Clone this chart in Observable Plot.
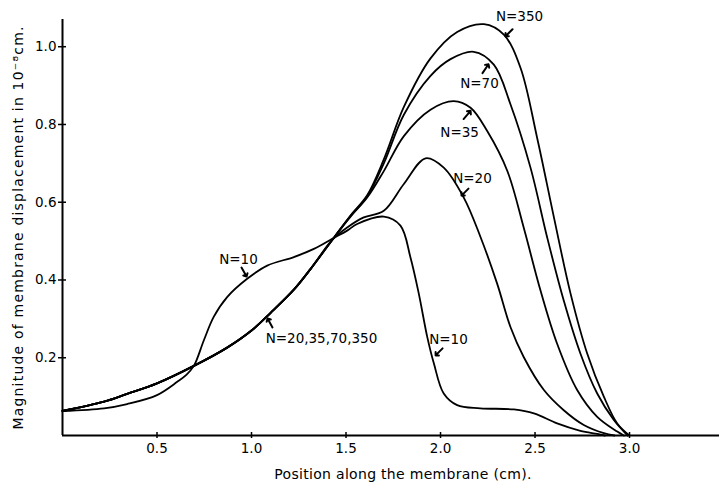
<!DOCTYPE html>
<html><head><meta charset="utf-8">
<script src="https://cdn.jsdelivr.net/npm/d3@7"></script>
<script src="https://cdn.jsdelivr.net/npm/@observablehq/plot@0.6"></script>
<style>body{margin:0;background:#fff}</style>
</head><body><div id="chart"></div>
<script>
// shared segment of N=20,35,70,350
const commonX = [0, 0.22, 0.342, 0.5, 0.695, 0.871, 1.0, 1.1, 1.224, 1.312, 1.427];
const commonY = [0.063, 0.087, 0.107, 0.134, 0.179, 0.226, 0.270, 0.315, 0.375, 0.428, 0.503];

const n10X = [0, 0.22, 0.342, 0.5, 0.607, 0.655, 0.695, 0.748, 0.80, 0.871, 0.977, 1.083, 1.224, 1.33, 1.427, 1.506, 1.559, 1.70, 1.788, 1.841, 1.885, 1.93, 1.965, 2.017, 2.088, 2.21, 2.388, 2.494, 2.617, 2.74, 2.83, 2.87];
const n10Y = [0.063, 0.070, 0.081, 0.104, 0.138, 0.156, 0.179, 0.245, 0.305, 0.356, 0.403, 0.437, 0.459, 0.480, 0.506, 0.527, 0.544, 0.563, 0.540, 0.458, 0.365, 0.253, 0.185, 0.108, 0.078, 0.070, 0.067, 0.057, 0.031, 0.012, 0.004, 0];

const n20X = [1.506, 1.594, 1.70, 1.806, 1.921, 2.017, 2.123, 2.212, 2.30, 2.37, 2.44, 2.547, 2.652, 2.758, 2.864, 2.92];
const n20Y = [0.535, 0.561, 0.578, 0.647, 0.713, 0.689, 0.612, 0.510, 0.390, 0.279, 0.202, 0.117, 0.065, 0.027, 0.006, 0];

const n35X = [1.524, 1.612, 1.70, 1.806, 1.947, 2.07, 2.159, 2.247, 2.353, 2.44, 2.529, 2.617, 2.723, 2.829, 2.935, 2.97];
const n35Y = [0.563, 0.612, 0.680, 0.770, 0.838, 0.860, 0.843, 0.783, 0.681, 0.535, 0.373, 0.236, 0.117, 0.048, 0.010, 0];

const n70X = [1.524, 1.612, 1.70, 1.806, 1.947, 2.053, 2.176, 2.282, 2.37, 2.476, 2.564, 2.652, 2.74, 2.829, 2.917, 2.99];
const n70Y = [0.565, 0.615, 0.700, 0.825, 0.925, 0.968, 0.987, 0.954, 0.852, 0.689, 0.510, 0.347, 0.211, 0.108, 0.040, 0];

const n350X = [1.524, 1.612, 1.70, 1.806, 1.947, 2.088, 2.23, 2.335, 2.423, 2.511, 2.60, 2.688, 2.776, 2.864, 2.935, 3.0];
const n350Y = [0.566, 0.618, 0.710, 0.845, 0.970, 1.038, 1.058, 1.031, 0.946, 0.766, 0.561, 0.365, 0.211, 0.100, 0.031, 0];

const xTicks = [0.5, 1.0, 1.5, 2.0, 2.5, 3.0];
const yTicks = [0.2, 0.4, 0.6, 0.8, 1.0];

const labelText = ["N=350", "N=70", "N=35", "N=20", "N=10", "N=10", "N=20,35,70,350"];
const labelX = [2.418, 2.206, 2.101, 2.169, 2.042, 0.931, 1.37];
const labelY = [1.076, 0.904, 0.780, 0.660, 0.247, 0.453, 0.250];
const arrowX1 = [2.381, 2.222, 2.122, 2.148, 2.011, 0.947, 1.111];
const arrowY1 = [1.045, 0.932, 0.814, 0.635, 0.224, 0.432, 0.278];
const arrowX2 = [2.344, 2.254, 2.159, 2.111, 1.974, 0.974, 1.085];
const arrowY2 = [1.027, 0.955, 0.835, 0.617, 0.206, 0.409, 0.301];

const xLabel = "Position along the membrane (cm).";
const yLabel = "Magnitude of membrane displacement in 10\u207B\u2078cm.";

const series = [
  {name: "N=10", x: n10X, y: n10Y},
  {name: "N=20", x: commonX.concat(n20X), y: commonY.concat(n20Y)},
  {name: "N=35", x: commonX.concat(n35X), y: commonY.concat(n35Y)},
  {name: "N=70", x: commonX.concat(n70X), y: commonY.concat(n70Y)},
  {name: "N=350", x: commonX.concat(n350X), y: commonY.concat(n350Y)}
];
const rows = series.flatMap(s => s.x.map((x, i) => ({series: s.name, x, y: s.y[i]})));
const labels = labelText.map((t, i) => ({t, x: labelX[i], y: labelY[i]}));
const arrows = arrowX1.map((x1, i) => ({x1, y1: arrowY1[i], x2: arrowX2[i], y2: arrowY2[i]}));

const fontFam = "'DejaVu Sans', sans-serif";
const fmt = d3.format(".1f");

const chart = Plot.plot({
  width: 719,
  height: 490,
  marginLeft: 62,
  marginRight: 0,
  marginTop: 19,
  marginBottom: 55,
  style: {fontFamily: fontFam, background: "#fff", color: "#000"},
  x: {domain: [0, 3.476]},
  y: {domain: [0, 1.07]},
  marks: [
    Plot.axisX({ticks: xTicks, tickSize: 6, dy: -3, text: null, strokeWidth: 1.5}),
    Plot.axisX({ticks: xTicks, tickSize: 0, tickPadding: 8, tickFormat: fmt, fontSize: 13.5, label: null}),
    Plot.axisY({ticks: yTicks, tickSize: 8, dx: 4, text: null, strokeWidth: 1.5}),
    Plot.axisY({ticks: yTicks, tickSize: 0, tickPadding: 6, tickFormat: fmt, fontSize: 13.5, label: null}),
    Plot.ruleX([0], {strokeWidth: 2}),
    Plot.ruleY([0], {strokeWidth: 2}),
    Plot.line(rows, {x: "x", y: "y", z: "series", curve: "catmull-rom", stroke: "#000", strokeWidth: 1.8}),
    Plot.arrow(arrows, {x1: "x1", y1: "y1", x2: "x2", y2: "y2", stroke: "#000", strokeWidth: 2, headLength: 5, headAngle: 90}),
    Plot.text(labels, {x: "x", y: "y", text: "t", fontSize: 13.5, fill: "#000"}),
    Plot.text([xLabel], {text: d => d, frameAnchor: "bottom", dx: 12, dy: 43, fontSize: 14, fill: "#000"}),
    Plot.text([yLabel], {text: d => d, frameAnchor: "left", textAnchor: "middle", dx: -44, rotate: -90, fontSize: 14, fill: "#000"})
  ]
});
document.getElementById("chart").appendChild(chart);
d3.select(chart).selectAll("text").filter(function() { return this.textContent === xLabel; }).style("letter-spacing", "0.3px");
d3.select(chart).selectAll("text").filter(function() { return this.textContent === yLabel; }).style("letter-spacing", "1.2px");
</script>
</body></html>
